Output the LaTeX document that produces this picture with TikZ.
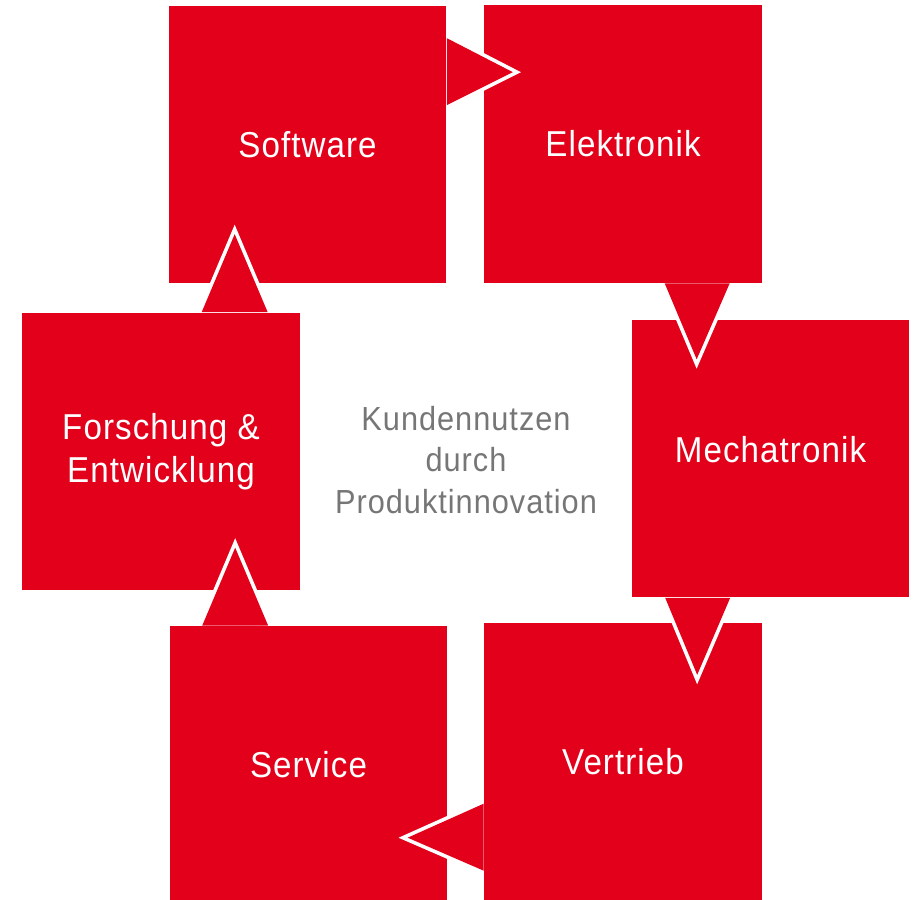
\documentclass[tikz,border=0pt]{standalone}
\usepackage{fontspec}
\setmainfont{Liberation Sans}[FakeStretch=0.92,LetterSpace=3]
\usetikzlibrary{calc}
\definecolor{boxred}{RGB}{226,0,26}
\definecolor{textgrey}{RGB}{118,118,118}

\begin{document}
\begin{tikzpicture}[x=0.02cm, y=-0.02cm]
    \tikzset{
      boxnode/.style={rectangle,fill=boxred,text=white,inner sep=0pt,minimum width=5.56cm,minimum height=5.56cm,align=center,font=\fontsize{20.5}{24.5}\selectfont},
      tipfill/.style={fill=boxred},
      tipedge/.style={draw=white,line width=4.2pt,miter limit=10},
      centertext/.style={text=textgrey,align=center,font=\fontsize{19}{23.5}\selectfont}
    }
    \useasboundingbox (0,0) rectangle (915,899);

    \node[boxnode](software) at (307.5,144.5){Software};
    \node[boxnode](elektronik) at (623,144){Elektronik};
    \node[boxnode,text depth=0.36cm](mechatronik) at (770.5,458.5){Mechatronik};
    \node[boxnode](vertrieb) at (623,762){Vertrieb};
    \node[boxnode](service) at (308.5,765){Service};
    \node[boxnode](forschung) at (161,451.5){Forschung \&\\Entwicklung};
    \node[centertext](nutzen) at (466,460){Kundennutzen\\durch\\Produktinnovation};

    % pointer corners, tip and clip region of each box
    \coordinate (sw-a) at ($(software.north east)+(0,33)$);
    \coordinate (sw-t) at ($(software.north east)+(66,67)$);
    \coordinate (sw-b) at ($(software.north east)+(0,100)$);
    \coordinate (sw-c) at (software.north east);
    \coordinate (sw-d) at ($(software.south east)+(120,0)$);

    \coordinate (el-a) at ($(elektronik.south west)+(181,0)$);
    \coordinate (el-t) at ($(elektronik.south west)+(213,76)$);
    \coordinate (el-b) at ($(elektronik.south west)+(246,0)$);
    \coordinate (el-c) at (elektronik.south west);
    \coordinate (el-d) at ($(elektronik.south east)+(0,120)$);

    \coordinate (me-a) at ($(mechatronik.south west)+(34,0)$);
    \coordinate (me-t) at ($(mechatronik.south west)+(66,77)$);
    \coordinate (me-b) at ($(mechatronik.south west)+(99,0)$);
    \coordinate (me-c) at (mechatronik.south west);
    \coordinate (me-d) at ($(mechatronik.south east)+(0,120)$);

    \coordinate (ve-a) at ($(vertrieb.north west)+(0,181)$);
    \coordinate (ve-t) at ($(vertrieb.north west)+(-76,215)$);
    \coordinate (ve-b) at ($(vertrieb.north west)+(0,248)$);
    \coordinate (ve-c) at (vertrieb.north west);
    \coordinate (ve-d) at ($(vertrieb.south west)+(-120,0)$);

    \coordinate (se-a) at ($(service.north west)+(33,0)$);
    \coordinate (se-t) at ($(service.north west)+(66,-78)$);
    \coordinate (se-b) at ($(service.north west)+(99,0)$);
    \coordinate (se-c) at (service.north west);
    \coordinate (se-d) at ($(service.north east)+(0,-120)$);

    \coordinate (fo-a) at ($(forschung.north west)+(180,0)$);
    \coordinate (fo-t) at ($(forschung.north west)+(213,-78)$);
    \coordinate (fo-b) at ($(forschung.north west)+(246,0)$);
    \coordinate (fo-c) at ($(forschung.north west)+(140,0)$);
    \coordinate (fo-d) at ($(forschung.north east)+(0,-120)$);

    \foreach \n in {sw,el,me,ve,se,fo}{
      \begin{scope}
        \clip (\n-c) rectangle (\n-d);
        \draw[tipedge](\n-a) -- (\n-t) -- (\n-b);
      \end{scope}
      \fill[tipfill](\n-a) -- (\n-t) -- (\n-b) -- cycle;
    }
  \end{tikzpicture}
\end{document}
